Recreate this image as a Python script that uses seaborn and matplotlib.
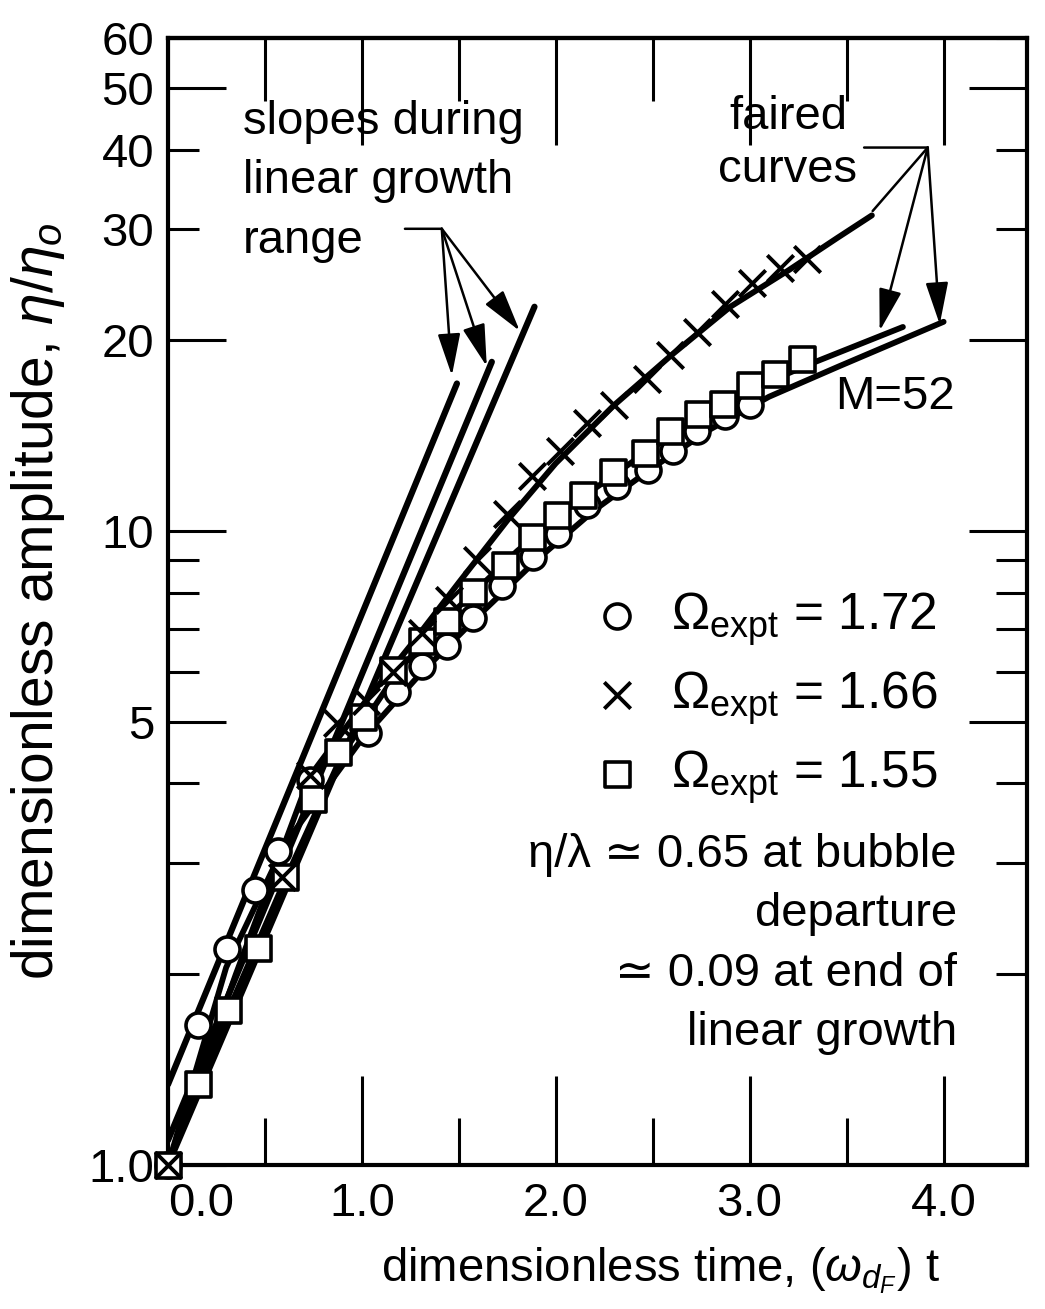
import numpy as np
import pandas as pd
import matplotlib

matplotlib.use('Agg')
import matplotlib.pyplot as plt
import seaborn as sns

circle_x = [0.0, 0.155, 0.304, 0.448, 0.567, 0.73, 1.031, 1.18, 1.309, 1.438, 1.572,
            1.722, 1.881, 2.01, 2.16, 2.314, 2.474, 2.603, 2.727, 2.871, 3.0]
circle_y = [1.0, 1.665, 2.19, 2.715, 3.13, 4.05, 4.81, 5.57, 6.13, 6.59, 7.29,
            8.18, 9.11, 9.89, 10.98, 11.8, 12.5, 13.4, 14.4, 15.2, 15.8]

cross_x = [0.0, 0.59, 0.73, 0.87, 1.02, 1.16, 1.31, 1.45, 1.593, 1.747, 1.876,
           2.02, 2.16, 2.30, 2.469, 2.588, 2.727, 2.871, 3.01, 3.155, 3.294]
cross_y = [1.0, 2.85, 4.13, 4.98, 5.4, 6.0, 6.9, 7.8, 9.0, 10.63, 12.23,
           13.38, 14.8, 15.8, 17.4, 19.0, 20.6, 22.8, 24.6, 26.0, 26.9]

square_x = [0.0, 0.155, 0.309, 0.464, 0.603, 0.747, 0.876, 1.005, 1.16, 1.309, 1.438, 1.572,
            1.737, 1.876, 2.005, 2.139, 2.294, 2.459, 2.588, 2.732, 2.861, 3.0, 3.129, 3.268]
square_y = [1.0, 1.343, 1.758, 2.20, 2.85, 3.78, 4.49, 5.09, 6.03, 6.71, 7.21, 8.03,
            8.85, 9.78, 10.6, 11.4, 12.4, 13.3, 14.4, 15.3, 15.9, 17.0, 17.7, 18.7]

# faired curves
faired_cross_x = [0.0, 0.35, 0.73, 1.0, 1.25, 1.5, 1.75, 2.0, 2.3, 2.6, 2.9, 3.2, 3.45, 3.63]
faired_cross_y = [1.0, 2.0, 4.1, 5.3, 6.6, 8.3, 10.4, 12.8, 15.8, 19.0, 22.6, 25.8, 29.0, 31.5]
faired_square_x = [0.0, 0.3, 0.6, 0.9, 1.2, 1.5, 1.8, 2.1, 2.4, 2.7, 3.0, 3.3, 3.79]
faired_square_y = [1.0, 1.72, 2.8, 4.45, 6.1, 7.6, 9.3, 11.1, 12.9, 14.9, 16.7, 18.3, 21.0]
faired_circle_x = [0.0, 0.3, 0.6, 1.0, 1.3, 1.6, 1.9, 2.2, 2.5, 2.8, 3.1, 3.46, 4.0]
faired_circle_y = [1.0, 2.05, 3.2, 4.7, 5.95, 7.35, 9.0, 10.8, 12.6, 14.5, 16.3, 18.2, 21.4]

# straight slopes during linear growth (end points)
slope_lines = [([0.0, 1.49], [1.34, 17.1]),
               ([0.0, 1.67], [1.094, 18.5]),
               ([0.0, 1.89], [1.0, 22.6])]

legend_labels = [r'$\mathit{\Omega}_{\rm expt}$ = 1.72',
                 r'$\mathit{\Omega}_{\rm expt}$ = 1.66',
                 r'$\mathit{\Omega}_{\rm expt}$ = 1.55']

sns.set_style('ticks', {'axes.edgecolor': 'black', 'xtick.color': 'black', 'ytick.color': 'black',
                        'text.color': 'black', 'axes.labelcolor': 'black'})
plt.rcParams['font.family'] = ['Liberation Sans', 'DejaVu Sans']
plt.rcParams['mathtext.fontset'] = 'custom'
plt.rcParams['mathtext.rm'] = 'Liberation Sans'
plt.rcParams['mathtext.it'] = 'Liberation Sans:italic'
plt.rcParams['mathtext.bf'] = 'Liberation Sans:bold'

FS = 34

fig = plt.figure(figsize=(10.45, 13.09), dpi=100)
ax = fig.add_axes([168 / 1045, (1309 - 1165) / 1309, (1027 - 168) / 1045, (1165 - 38) / 1309])
ax.set_yscale('log')

for xs, ys in slope_lines:
    sns.lineplot(x=xs, y=ys, ax=ax, color='black', lw=4.5, sort=False, estimator=None)
for xs, ys in [(faired_cross_x, faired_cross_y), (faired_square_x, faired_square_y),
               (faired_circle_x, faired_circle_y)]:
    sns.lineplot(x=xs, y=ys, ax=ax, color='black', lw=4.2, sort=False, estimator=None)

sns.scatterplot(x=circle_x, y=circle_y, ax=ax, marker='o', s=18 ** 2, color='white',
                edgecolor='black', linewidth=2.6, zorder=3, clip_on=False, label=legend_labels[0])
sns.scatterplot(x=square_x, y=square_y, ax=ax, marker='s', s=18 ** 2, color='white',
                edgecolor='black', linewidth=2.6, zorder=4, clip_on=False, label=legend_labels[2])
sns.scatterplot(x=cross_x, y=cross_y, ax=ax, marker='x', s=19 ** 2, color='black',
                linewidth=2.8, zorder=5, clip_on=False, label=legend_labels[1])

ax.set_xlim(0, 4.43)
ax.set_ylim(1, 60)

# axes ticks
ax.set_xticks([0, 1, 2, 3, 4], labels=['0.0', '1.0', '2.0', '3.0', '4.0'])
ax.set_xticks([0.5, 1.5, 2.5, 3.5], minor=True)
ax.set_yticks([1, 5, 10, 20, 50], labels=['1.0', '5', '10', '20', '50'])
ax.set_yticks([2, 3, 4, 6, 7, 8, 9, 30, 40, 60],
              labels=['', '', '', '', '', '', '', '30', '40', '60'], minor=True)
ax.tick_params(axis='y', which='both', direction='in', left=True, right=True, width=2.2,
               labelsize=FS, pad=10)
ax.tick_params(axis='y', which='major', length=42)
ax.tick_params(axis='y', which='minor', length=22)
ax.tick_params(axis='x', which='both', direction='in', bottom=True, top=False, width=2.2,
               labelsize=FS, pad=12)
ax.tick_params(axis='x', which='major', length=64)
ax.tick_params(axis='x', which='minor', length=34)
ax.xaxis.get_major_ticks()[0].label1.set_horizontalalignment('left')

top = ax.secondary_xaxis('top')
top.set_xticks([0, 1, 2, 3, 4])
top.set_xticks([0.5, 1.5, 2.5, 3.5], minor=True)
top.tick_params(axis='x', which='both', direction='in', width=2.2, labeltop=False)
top.tick_params(axis='x', which='major', length=77)
top.tick_params(axis='x', which='minor', length=45)
top.spines['top'].set_linewidth(3)

for sp in ax.spines.values():
    sp.set_linewidth(3)
    sp.set_color('black')

ax.set_xlabel(r'dimensionless time, $(\omega_{d_F})$ t', fontsize=FS)
ax.xaxis.set_label_coords(0.573, -0.071)
ax.set_ylabel(r'dimensionless amplitude, $\eta/\eta_o$', fontsize=41)
ax.yaxis.set_label_coords(-0.118, 0.50)

# pointers
arrow_kw = dict(arrowstyle='-|>,head_length=1.3,head_width=0.35', color='black', lw=1.8,
                shrinkA=0, shrinkB=0, mutation_scale=20)
line_kw = dict(arrowstyle='-', color='black', lw=1.8, shrinkA=0, shrinkB=0)
ax.annotate('', xy=(1.412, 30.0), xytext=(1.222, 30.0), arrowprops=line_kw)
for tip in [(1.464, 17.6), (1.644, 18.2), (1.814, 20.7)]:
    ax.annotate('', xy=tip, xytext=(1.412, 30.0), arrowprops=arrow_kw)
ax.annotate('', xy=(3.918, 40.3), xytext=(3.59, 40.3), arrowprops=line_kw)
ax.annotate('', xy=(3.634, 32.0), xytext=(3.918, 40.3), arrowprops=line_kw)
for tip in [(3.67, 20.7), (3.98, 21.2)]:
    ax.annotate('', xy=tip, xytext=(3.918, 40.3), arrowprops=arrow_kw)

fig.text(243 / 1045, 1 - 100 / 1309, 'slopes during\nlinear growth\nrange', fontsize=FS,
         ha='left', va='top', linespacing=1.45)
fig.text(788 / 1045, 1 - 95 / 1309, 'faired\ncurves', fontsize=FS, ha='center', va='top',
         linespacing=1.25)
fig.text(895 / 1045, 1 - 397 / 1309, 'M=52', fontsize=FS, ha='center', va='center')
fig.text(957 / 1045, 1 - 833 / 1309,
         'η/λ ≃ 0.65 at bubble\ndeparture\n≃ 0.09 at end of\nlinear growth',
         fontsize=FS, ha='right', va='top', multialignment='right', linespacing=1.45)

handles, labels = ax.get_legend_handles_labels()
order = [labels.index(l) for l in legend_labels]
ax.legend([handles[i] for i in order], [labels[i] for i in order], loc='upper left',
          bbox_to_anchor=(594 / 1045, 1 - 590 / 1309), bbox_transform=fig.transFigure,
          frameon=False, fontsize=37, handlelength=0.9, handletextpad=0.6,
          labelspacing=0.42, borderpad=0, borderaxespad=0)

fig.savefig('out.png', dpi=100)
plt.close(fig)
